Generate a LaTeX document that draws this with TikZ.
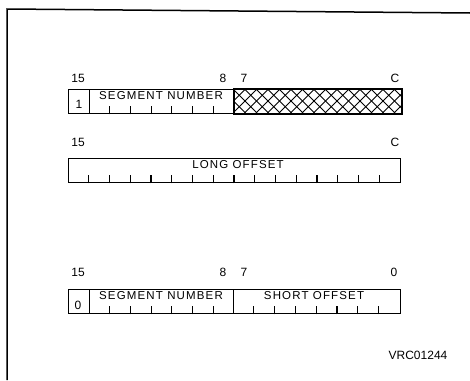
\documentclass[tikz,border=0pt]{standalone}
\usepackage{fontspec}
\usetikzlibrary{calc}
\setmainfont{Liberation Sans}
\newfontfamily\lblfont[LetterSpace=10]{Liberation Sans}
\begin{document}
\begin{tikzpicture}[x=1pt,y=-1pt,
  field/.style={draw,line width=1.4pt,rectangle,inner sep=0pt,anchor=north west},
  lbl/.style={inner sep=0pt,font=\lblfont\fontsize{11.5}{13}\selectfont},
  num/.style={inner sep=0pt,font=\fontsize{12}{14}\selectfont},
  tick/.style={line width=1.1pt}]
\useasboundingbox (0,0) rectangle (470,380);
\fill[white] (0,0) rectangle (470,380);
% frame
\coordinate (fr1) at (470,13);
\coordinate (fr2) at (7,9);
\coordinate (fr3) at (7,380);
\draw[line width=1.5pt] (fr1) -- (fr2) -- (fr3);

% ---------- word 1 ----------
\node[field,minimum width=21pt,minimum height=24pt] (a15) at (68,89) {};
\node[field,minimum width=145pt,minimum height=24pt] (aseg) at (89,89) {};
\node[field,minimum width=167pt,minimum height=24pt] (ahat) at (234,89) {};
\begin{scope}
  \clip (ahat.north west) rectangle (ahat.south east);
  \foreach \i in {0,...,18}{
    \draw[line width=0.8pt] ($(ahat.north west)+(\i*11.5-24,0)$) -- ++(24,24);
    \draw[line width=0.8pt] ($(ahat.north west)+(\i*11.5,0)$) -- ++(-24,24);
  }
\end{scope}
\draw[line width=1.4pt] (ahat.north west) rectangle (ahat.south east);
\foreach \k in {1,...,6}{
  \draw[tick] ($(aseg.south west)+(\k*20.7,0)$) -- ++(0,-8);
}
\node[num] (a1) at (79,104) {1};
\node[lbl] (asegt) at (161,96) {SEGMENT NUMBER};
\node[num] (a15n) at (78,78) {15};
\node[num] (a8n) at (223,78) {8};
\node[num] (a7n) at (244,78) {7};
\node[num] (a0n) at (395,78) {C};

% ---------- word 2 ----------
\node[field,minimum width=332pt,minimum height=24pt] (blong) at (68,158) {};
\foreach \k in {1,...,15}{
  \draw[tick] ($(blong.south west)+(\k*20.75,0)$) -- ++(0,-8);
}
\node[lbl] (blongt) at (238,165) {LONG OFFSET};
\node[num] (b15n) at (78,142) {15};
\node[num] (b0n) at (395,142) {C};

% ---------- word 3 ----------
\node[field,minimum width=21pt,minimum height=24pt] (c15) at (68,289) {};
\node[field,minimum width=144pt,minimum height=24pt] (cseg) at (89,289) {};
\node[field,minimum width=167pt,minimum height=24pt] (csho) at (233,289) {};
\foreach \k in {1,...,6}{
  \draw[tick] ($(cseg.south west)+(\k*20.7,0)$) -- ++(0,-8);
}
\foreach \k in {1,...,7}{
  \draw[tick] ($(csho.south west)+(\k*20.8,0)$) -- ++(0,-8);
}
\node[num] (c0) at (78,305) {0};
\node[lbl] (csegt) at (161,296) {SEGMENT NUMBER};
\node[lbl] (csht) at (314,296) {SHORT OFFSET};
\node[num] (c15n) at (78,272) {15};
\node[num] (c8n) at (223,272) {8};
\node[num] (c7n) at (244,272) {7};
\node[num] (c0n) at (394,272) {0};

\node[num] (ref) at (418,355) {VRC01244};
\end{tikzpicture}
\end{document}
